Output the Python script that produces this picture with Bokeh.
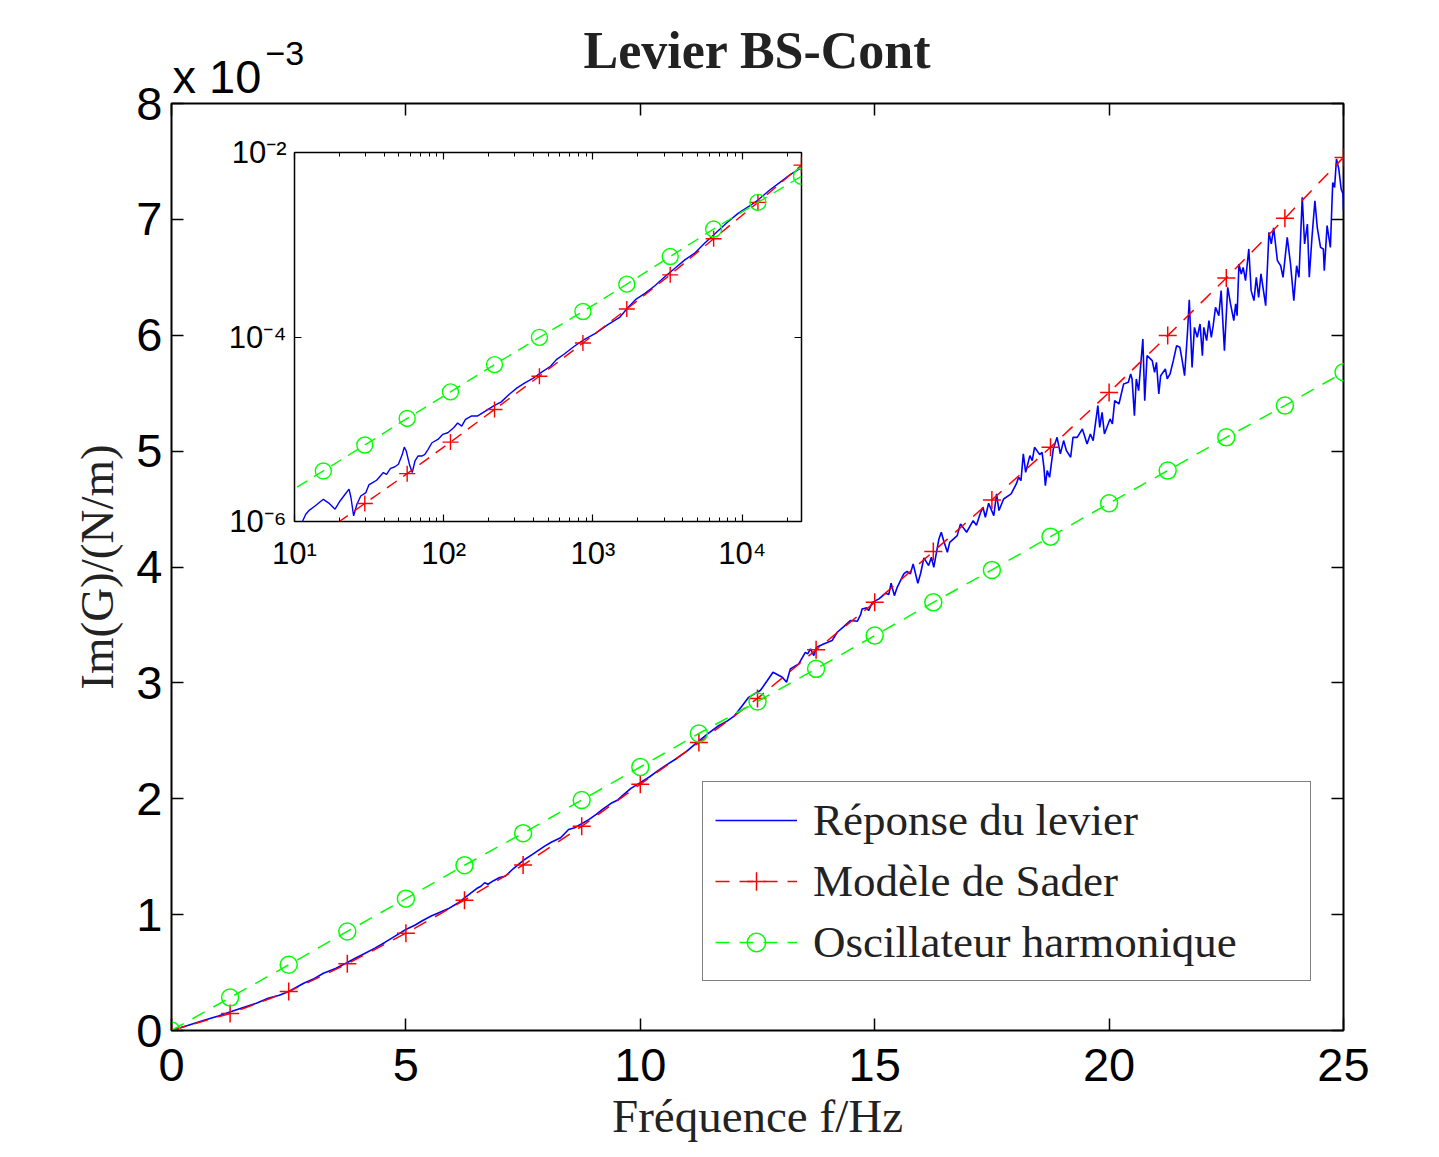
from bokeh.plotting import figure
from bokeh.models import (Range1d, LinearAxis, LogAxis, FixedTicker, Legend,
                          LegendItem, Label)
from bokeh.embed import file_html
from bokeh.resources import INLINE

# ---------------- data (main panel: frequency axis as labelled, Im(G) in 1e-3 N/m) -------------
freq_marks = [0, 1.25, 2.5, 3.75, 5, 6.25, 7.5, 8.75, 10, 11.25, 12.5, 13.75, 15,
              16.25, 17.5, 18.75, 20, 21.25, 22.5, 23.75, 25]
sader_marks = [0, 0.147, 0.336, 0.575, 0.840, 1.125, 1.428, 1.762, 2.125, 2.485, 2.866,
               3.285, 3.695, 4.133, 4.579, 5.033, 5.507, 5.997, 6.494, 7.009, 7.535]
harmonic_marks = [0, 0.284, 0.567, 0.855, 1.138, 1.426, 1.703, 1.989, 2.274, 2.563, 2.840,
                  3.121, 3.408, 3.695, 3.975, 4.262, 4.550, 4.832, 5.119, 5.393, 5.680]

resp_freq = [0, 0.36, 0.715, 1.0, 1.246, 1.5, 1.81, 2.06, 2.3, 2.5, 2.82, 3.05, 3.24, 3.5,
             3.74, 3.92, 4.1, 4.34, 4.55, 4.76, 5.0, 5.2, 5.35, 5.55, 5.69, 5.9, 6.11, 6.3,
             6.53, 6.6, 6.68, 6.75, 6.87, 7.0, 7.12, 7.3, 7.5, 7.7, 7.96, 8.1, 8.3, 8.47,
             8.6, 8.72, 8.9, 9.06, 9.2, 9.4, 9.52, 9.65, 9.8, 10.0, 10.2, 10.37, 10.55,
             10.75, 10.9, 11.0, 11.25, 11.45, 11.67, 11.85, 12.01, 12.15, 12.31, 12.49,
             12.56, 12.71, 12.83, 13.03, 13.12, 13.20, 13.38, 13.52, 13.57, 13.63, 13.70,
             13.76, 13.91, 14.09, 14.20, 14.34, 14.48, 14.63, 14.70, 14.73, 14.83, 14.87,
             14.95, 15.09, 15.23, 15.30, 15.35, 15.42, 15.48, 15.62, 15.69, 15.76, 15.82,
             15.92, 15.98, 16.05, 16.15, 16.21, 16.26, 16.37, 16.42, 16.47, 16.55, 16.60,
             16.76, 16.83, 16.96, 17.1, 17.17, 17.26, 17.31, 17.36, 17.43, 17.54, 17.60,
             17.65, 17.75, 17.91, 18.02, 18.07, 18.12, 18.17, 18.22, 18.31, 18.36, 18.41,
             18.52, 18.57, 18.61, 18.64, 18.68, 18.73, 18.81, 18.89, 18.96, 19.03, 19.09,
             19.18, 19.23, 19.32, 19.43, 19.53, 19.60, 19.66, 19.76, 19.80, 19.85, 19.90,
             20.02, 20.07, 20.12, 20.21, 20.31, 20.41, 20.46, 20.49, 20.54, 20.58, 20.63,
             20.67, 20.72, 20.76, 20.81, 20.92, 20.97, 21.01, 21.06, 21.10, 21.20, 21.24,
             21.30, 21.37, 21.44, 21.51, 21.56, 21.61, 21.67, 21.71, 21.77, 21.82, 21.88,
             21.94, 21.99, 22.02, 22.08, 22.13, 22.18, 22.22, 22.27, 22.34, 22.39, 22.46,
             22.53, 22.59, 22.66, 22.70, 22.73, 22.77, 22.82, 22.86, 22.91, 22.98, 23.03,
             23.09, 23.14, 23.19, 23.24, 23.34, 23.41, 23.46, 23.51, 23.59, 23.66, 23.71,
             23.80, 23.87, 23.94, 24.00, 24.05, 24.12, 24.17, 24.23, 24.27, 24.33, 24.39,
             24.44, 24.51, 24.57, 24.59, 24.65, 24.72, 24.77, 24.81, 24.85, 24.90, 24.95,
             24.99, 25.0]
resp_im_g = [0, 0.045, 0.091, 0.125, 0.160, 0.195, 0.235, 0.278, 0.305, 0.336, 0.408, 0.450,
             0.494, 0.535, 0.585, 0.624, 0.660, 0.711, 0.760, 0.812, 0.872, 0.910, 0.947,
             0.990, 1.014, 1.050, 1.100, 1.160, 1.230, 1.245, 1.275, 1.262, 1.293, 1.320,
             1.331, 1.400, 1.467, 1.520, 1.591, 1.625, 1.663, 1.735, 1.750, 1.778, 1.820,
             1.865, 1.910, 1.966, 1.990, 2.038, 2.090, 2.139, 2.190, 2.240, 2.290, 2.341,
             2.385, 2.413, 2.500, 2.565, 2.630, 2.670, 2.716, 2.790, 2.875, 2.918, 2.934,
             3.020, 3.092, 3.049, 3.006, 3.121, 3.164, 3.264, 3.250, 3.293, 3.236, 3.307,
             3.336, 3.365, 3.437, 3.486, 3.538, 3.532, 3.589, 3.638, 3.647, 3.624, 3.695,
             3.725, 3.773, 3.762, 3.860, 3.753, 3.825, 3.940, 3.963, 3.940, 4.027, 3.860,
             3.946, 4.079, 4.012, 4.084, 3.997, 4.242, 4.300, 4.228, 4.127, 4.213, 4.271,
             4.372, 4.300, 4.400, 4.360, 4.472, 4.515, 4.429, 4.550, 4.443, 4.631, 4.487,
             4.587, 4.631, 4.717, 4.774, 4.746, 4.976, 4.817, 4.961, 4.918, 5.033, 4.970,
             4.990, 4.860, 4.702, 4.832, 4.774, 5.019, 5.119, 4.976, 5.091, 5.004, 4.947,
             5.119, 5.119, 5.191, 5.062, 5.148, 5.091, 5.393, 5.205, 5.335, 5.148, 5.278,
             5.235, 5.436, 5.407, 5.580, 5.594, 5.666, 5.623, 5.306, 5.623, 5.522, 5.723,
             5.968, 5.436, 5.824, 5.781, 5.680, 5.766, 5.494, 5.651, 5.709, 5.623, 5.666,
             5.781, 5.910, 5.896, 5.781, 5.651, 6.011, 6.305, 5.723, 6.068, 5.982, 6.097,
             5.824, 6.068, 5.953, 6.126, 5.982, 6.083, 6.241, 6.169, 6.385, 5.867, 6.414,
             6.270, 6.126, 6.270, 6.169, 6.615, 6.529, 6.586, 6.471, 6.745, 6.385, 6.299,
             6.500, 6.327, 6.529, 6.255, 6.888, 6.788, 6.926, 6.644, 6.600, 6.500, 6.845,
             6.615, 6.299, 6.600, 6.500, 7.190, 6.788, 6.960, 6.500, 6.859, 7.161, 6.931,
             6.758, 6.745, 6.557, 6.946, 6.758, 7.319, 7.276, 7.521, 7.435, 7.262, 7.219,
             7.075]

# ---------------- data (inset, log-log: f in Hz, Im(G) in N/m) ----------------
inset_resp_freq = [11.3, 11.9, 12.6, 13.8, 15.6, 17.1, 18.7, 20.2, 21.4, 23.2, 23.9, 24.9,
                   26.2, 27.8, 30.1, 31.5, 33.4, 35.5, 37.1, 39.4, 41.4, 44.0, 46.8, 49.7,
                   52.8, 54.4, 56.1, 58.9, 61.5, 64.2, 67.4, 71.7, 74.8, 78.6, 83.4, 91.4,
                   98.4, 106.5, 116.6, 124, 132, 140, 153, 168, 190, 215, 243, 274, 310,
                   350, 407, 446, 520, 569, 643, 750, 873, 1047, 1259, 1510, 1706, 1928,
                   2245, 2614, 3044, 3545, 4129, 4808, 5599, 6520, 7832, 9397, 11290,
                   12760, 15310, 18400, 20770, 23440, 25000]
inset_resp_im_g = [1.0e-6, 1.20e-6, 1.33e-6, 1.48e-6, 1.74e-6, 1.57e-6, 1.36e-6, 1.67e-6,
                   1.89e-6, 2.24e-6, 1.82e-6, 1.15e-6, 1.54e-6, 1.89e-6, 2.06e-6, 2.49e-6,
                   2.64e-6, 2.80e-6, 3.04e-6, 3.39e-6, 3.25e-6, 3.77e-6, 3.90e-6, 4.17e-6,
                   5.35e-6, 6.41e-6, 5.81e-6, 4.17e-6, 3.39e-6, 4.53e-6, 5.13e-6, 5.13e-6,
                   5.35e-6, 6.06e-6, 7.14e-6, 7.76e-6, 8.79e-6, 9.16e-6, 1.04e-5, 1.17e-5,
                   1.08e-5, 1.28e-5, 1.39e-5, 1.39e-5, 1.57e-5, 1.78e-5, 1.98e-5, 2.38e-5,
                   2.81e-5, 3.18e-5, 3.66e-5, 4.08e-5, 4.82e-5, 5.69e-5, 6.55e-5, 7.93e-5,
                   9.35e-5, 1.10e-4, 1.36e-4, 1.63e-4, 2.06e-4, 2.54e-4, 2.99e-4, 3.62e-4,
                   4.53e-4, 5.57e-4, 6.86e-4, 8.10e-4, 1.04e-3, 1.30e-3, 1.71e-3, 2.19e-3,
                   2.65e-3, 3.05e-3, 3.92e-3, 4.90e-3, 5.69e-3, 6.44e-3, 6.83e-3]
inset_sader_freq = [15.2, 29.6, 56.9, 111, 219, 438, 857, 1687, 3296, 6442, 12760, 25000]
inset_sader = [7.3e-7, 1.57e-6, 3.30e-6, 7.26e-6, 1.64e-5, 3.76e-5, 8.61e-5, 2.01e-4,
               4.72e-4, 1.16e-3, 2.88e-3, 7.30e-3]
inset_harm_freq = [8.0, 15.6, 29.6, 56.9, 111, 219, 438, 857, 1687, 3296, 6442, 12760, 25000]
inset_harm = [1.81e-6, 3.53e-6, 6.75e-6, 1.31e-5, 2.54e-5, 5.02e-5, 9.91e-5, 1.89e-4,
              3.74e-4, 7.45e-4, 1.48e-3, 2.88e-3, 5.53e-3]

x_ticks = [0, 5, 10, 15, 20, 25]
y_ticks = [0, 1, 2, 3, 4, 5, 6, 7, 8]
inset_x_ticks = [10, 100, 1000, 10000]
inset_x_labels = {10: "10¹", 100: "10²", 1000: "10³", 10000: "10⁴"}
inset_y_ticks = [1e-6, 1e-4, 1e-2]
inset_y_labels = {1e-6: "10⁻⁶", 1e-4: "10⁻⁴", 1e-2: "10⁻²"}

BLUE, RED, GREEN = "#0000ff", "#ff0000", "#00ff00"
SANS, SERIF = "Liberation Sans", "Liberation Serif"

# ---------------- main figure ----------------
p = figure(width=1439, height=1157, x_range=Range1d(0, 25), y_range=Range1d(0, 8),
           output_backend="svg", toolbar_location=None,
           min_border_left=171, min_border_right=96, min_border_top=103,
           min_border_bottom=127,
           x_axis_label="Fréquence f/Hz", y_axis_label="Im(G)/(N/m)")
p.background_fill_color = "white"
p.border_fill_color = "white"
p.outline_line_color = "black"
p.outline_line_width = 2
p.grid.visible = False


def style_axis(ax, ticks, show_labels=True):
    ax.ticker = FixedTicker(ticks=ticks)
    ax.axis_line_color = None
    ax.major_tick_in = 12
    ax.major_tick_out = 0
    ax.minor_tick_in = 0
    ax.minor_tick_out = 0
    ax.major_tick_line_color = "black"
    ax.major_tick_line_width = 1.5
    ax.major_label_text_font = SANS
    if show_labels:
        ax.major_label_text_font_size = "47px"
        ax.major_label_text_color = "black"
    else:
        ax.major_label_text_font_size = "10px"
        ax.major_label_text_color = None
        ax.major_label_standoff = 0
    ax.axis_label_text_font = SERIF
    ax.axis_label_text_font_size = "47px"
    ax.axis_label_text_font_style = "normal"
    ax.axis_label_text_color = "#222222"


style_axis(p.xaxis[0], x_ticks)
style_axis(p.yaxis[0], y_ticks)
p.xaxis[0].major_label_standoff = 18
p.xaxis[0].axis_label_standoff = 6
p.yaxis[0].major_label_standoff = 9
p.yaxis[0].axis_label_standoff = 10

top_ax = LinearAxis()
style_axis(top_ax, x_ticks, show_labels=False)
p.add_layout(top_ax, "above")
right_ax = LinearAxis()
style_axis(right_ax, y_ticks, show_labels=False)
p.add_layout(right_ax, "right")

blue = p.line(resp_freq, resp_im_g, line_color=BLUE, line_width=1.6)
red_line = p.line(freq_marks, sader_marks, line_color=RED, line_width=1.5, line_dash="14 10")
red_pts = p.scatter(freq_marks, sader_marks, marker="cross", size=18, line_color=RED,
                    line_width=1.5)
green_line = p.line(freq_marks, harmonic_marks, line_color=GREEN, line_width=1.5,
                    line_dash="14 10")
green_pts = p.scatter(freq_marks, harmonic_marks, marker="circle", size=17,
                      fill_color=None, line_color=GREEN, line_width=1.5)

legend = Legend(items=[
    LegendItem(label="Réponse du levier", renderers=[blue]),
    LegendItem(label="Modèle de Sader", renderers=[red_line, red_pts]),
    LegendItem(label="Oscillateur harmonique", renderers=[green_line, green_pts]),
], location=(531, 49), label_text_font=SERIF, label_text_font_size="45px",
    label_text_color="#222222", glyph_width=82, glyph_height=46, spacing=9,
    padding=12, margin=0, label_standoff=16, label_width=485,
    border_line_color="black", border_line_width=1.5,
    background_fill_color="white", background_fill_alpha=1)
p.add_layout(legend, "center")

# ---------------- inset figure ----------------
q = figure(width=599, height=461, x_axis_type="log", y_axis_type="log",
           x_range=Range1d(10, 25000), y_range=Range1d(1e-6, 1e-2),
           output_backend="svg", toolbar_location=None,
           min_border_left=80, min_border_right=12, min_border_top=30, min_border_bottom=62)
q.background_fill_color = "white"
q.border_fill_color = None
q.outline_line_color = "black"
q.outline_line_width = 1.5
q.grid.visible = False

minor_x = [m * 10 ** e for e in range(1, 5) for m in range(2, 10)]


def style_inset_axis(ax, ticks, minor, labels=None):
    ax.ticker = FixedTicker(ticks=ticks, minor_ticks=minor)
    ax.axis_line_color = None
    ax.major_tick_in = 7
    ax.major_tick_out = 0
    ax.minor_tick_in = 4 if minor else 0
    ax.minor_tick_out = 0
    ax.major_tick_line_color = "black"
    ax.minor_tick_line_color = "black"
    ax.major_tick_line_width = 1.2
    ax.minor_tick_line_width = 1.0
    ax.major_label_text_font = SANS
    if labels is not None:
        ax.major_label_overrides = labels
        ax.major_label_text_font_size = "31px"
        ax.major_label_text_color = "black"
    else:
        ax.major_label_text_font_size = "10px"
        ax.major_label_text_color = None
        ax.major_label_standoff = 0


style_inset_axis(q.xaxis[0], inset_x_ticks, minor_x, inset_x_labels)
style_inset_axis(q.yaxis[0], inset_y_ticks, [], inset_y_labels)
q.xaxis[0].major_label_standoff = 14
q.yaxis[0].major_label_standoff = 8
qt = LogAxis()
style_inset_axis(qt, inset_x_ticks, minor_x)
q.add_layout(qt, "above")
qr = LogAxis()
style_inset_axis(qr, inset_y_ticks, [])
q.add_layout(qr, "right")

q.line(inset_resp_freq, inset_resp_im_g, line_color=BLUE, line_width=1.4)
q.line(inset_sader_freq, inset_sader, line_color=RED, line_width=1.4, line_dash="12 8")
q.scatter(inset_sader_freq, inset_sader, marker="cross", size=16, line_color=RED,
          line_width=1.4)
q.line(inset_harm_freq, inset_harm, line_color=GREEN, line_width=1.4, line_dash="12 8")
q.scatter(inset_harm_freq, inset_harm, marker="circle", size=16, fill_color=None,
          line_color=GREEN, line_width=1.4)

# place the inset over the main figure (independent roots, no frame alignment)
q.margin = (152 - 30 - 1157, 0, 0, 294 - 80)

# ---------------- header strip: title and the x10^-3 multiplier (pixel coordinates) ---------
h = figure(width=1439, height=103, x_range=Range1d(0, 1439), y_range=Range1d(103, 0),
           output_backend="svg", toolbar_location=None, min_border=0,
           x_axis_type=None, y_axis_type=None)
h.outline_line_color = None
h.background_fill_color = None
h.border_fill_color = None
h.grid.visible = False
h.add_layout(Label(x=757, y=49.5, text="Levier BS-Cont", text_font=SERIF,
                   text_font_size="52px", text_font_style="bold", text_color="#222222",
                   text_align="center", text_baseline="middle"))
h.add_layout(Label(x=172, y=76, text="x 10", text_font=SANS, text_font_size="47px",
                   text_color="black", text_align="left", text_baseline="middle"))
h.add_layout(Label(x=265, y=53, text="−3", text_font=SANS, text_font_size="34px",
                   text_color="black", text_align="left", text_baseline="middle"))
h.margin = (-(122 + 461), 0, 0, 0)

open("out.html", "w").write(file_html([p, q, h], INLINE))
